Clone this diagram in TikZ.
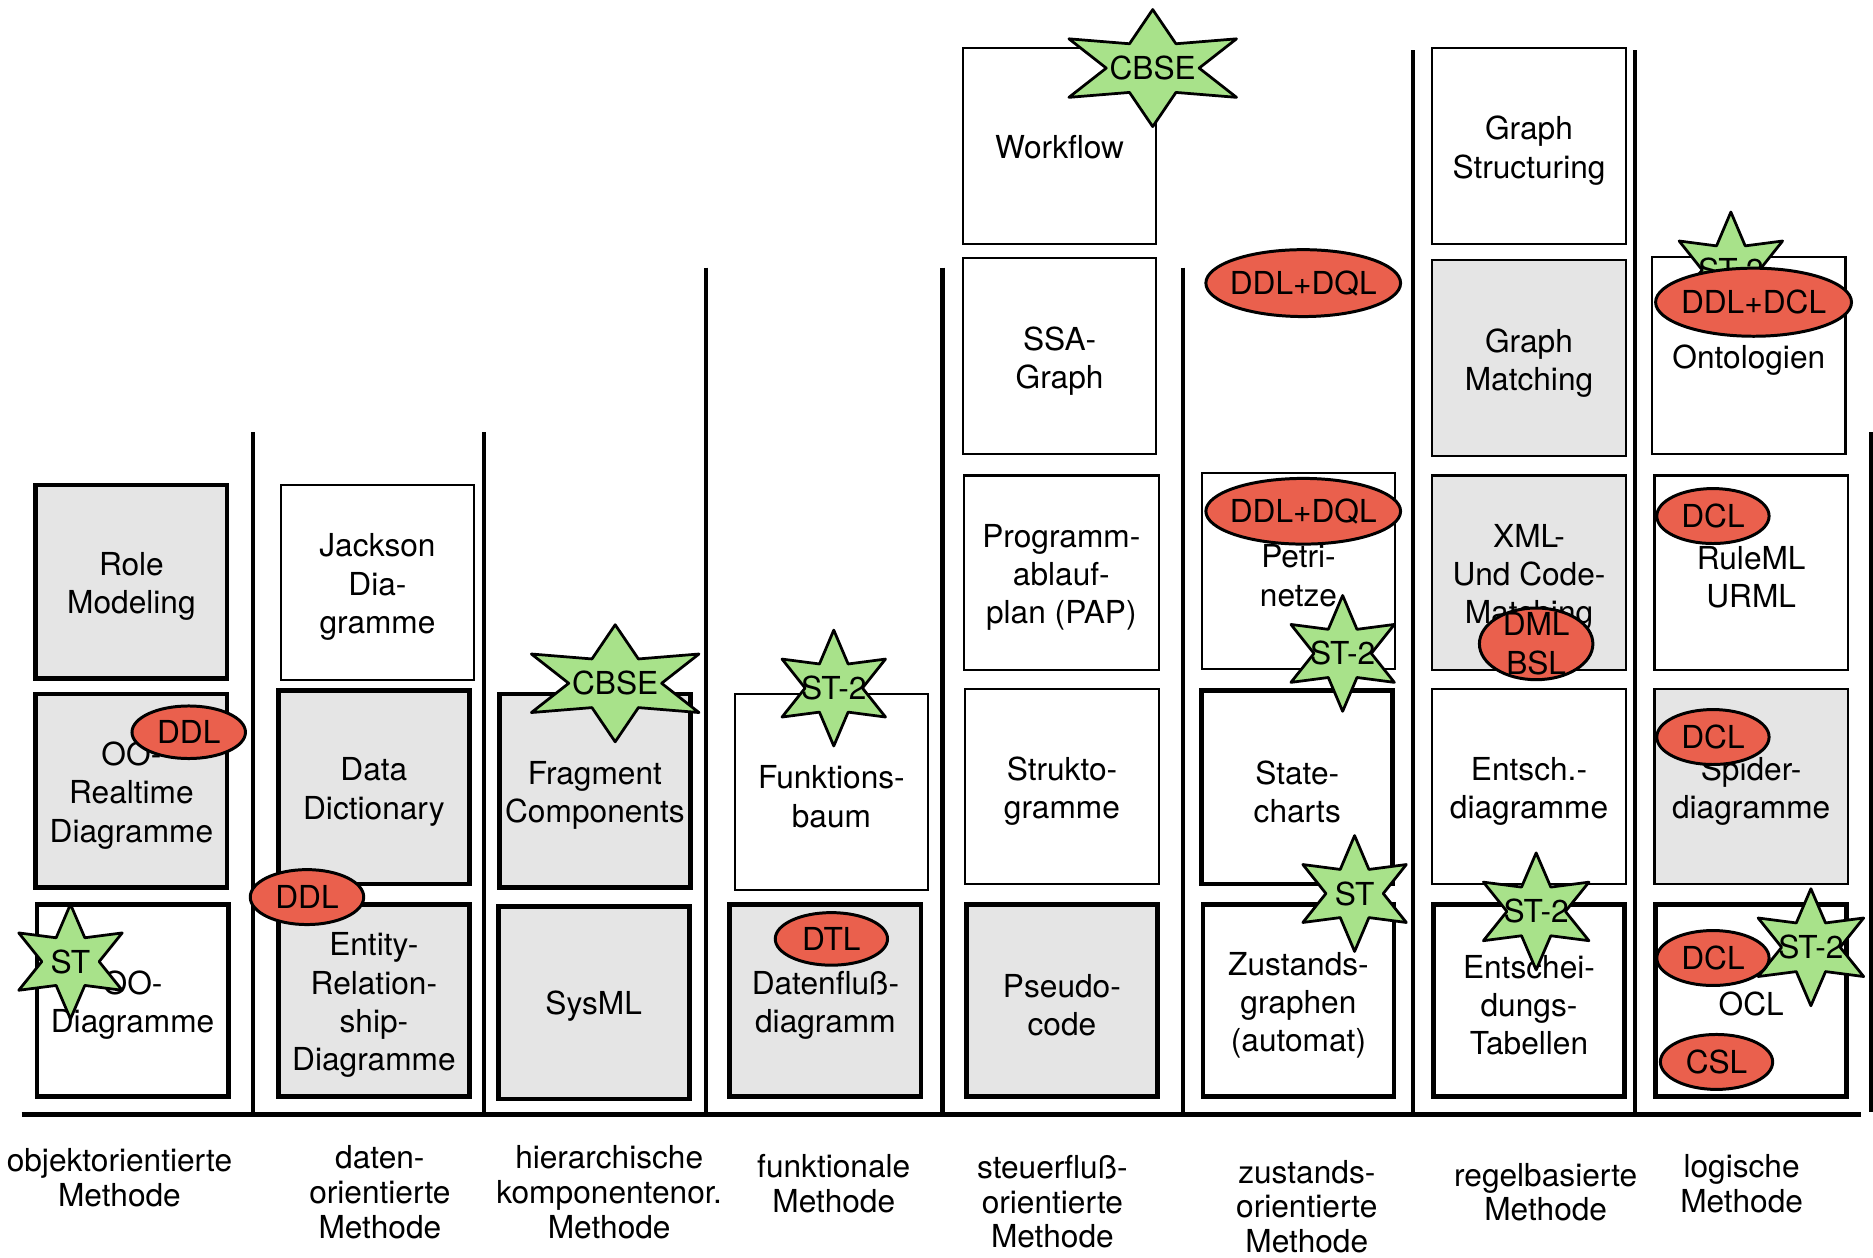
\documentclass[tikz,border=0pt]{standalone}
\usepackage{fontspec}
\setmainfont{TeX Gyre Heros}
\usetikzlibrary{calc}
\definecolor{boxgray}{RGB}{229,229,229}
\definecolor{tagred}{RGB}{234,96,77}
\definecolor{stargreen}{RGB}{168,226,138}
\tikzset{
  base/.style={draw, inner sep=0pt},
  thinb/.style={base, line width=1.8pt, fill=white},
  thickb/.style={base, line width=4pt, fill=white},
  grayfill/.style={fill=boxgray},
  boxtext/.style={align=center, inner sep=0pt, font=\fontsize{26.5}{32}\selectfont},
  sepline/.style={line width=3.4pt},
  baseline/.style={line width=5pt},
  tagshape/.style={draw, line width=2.5pt, fill=tagred},
  tagtext/.style={inner sep=0pt, align=center, font=\fontsize{26.5}{32}\selectfont},
  starshape/.style={draw, line width=2.3pt, fill=stargreen, line join=round},
  methlabel/.style={align=center, inner sep=0pt, font=\fontsize{26.5}{29}\selectfont},
}
% style, name, cx, cy, w, h, text-offset, text
\newcommand\bx[8]{%
  \node[#1, minimum width=#5pt, minimum height=#6pt] (#2) at (#3,#4) {};
  \node[boxtext] (#2-t) at ($(#2.center)+(0,#7)$) {#8};}
\newcommand\tagell[6]{%
  \draw[tagshape] (#2,#3) ellipse [x radius=#4pt, y radius=#5pt];
  \node[tagtext] (#1) at (#2,#3) {#6};}
\newcommand\gstar[6]{%
  \draw[starshape, shift={(#2,#3)}, xscale=#4, yscale=#5]
    (90:1) -- (120:.48) -- (150:1) -- (180:.48) -- (210:1) -- (240:.48) --
    (270:1) -- (300:.48) -- (330:1) -- (0:.48) -- (30:1) -- (60:.48) -- cycle;
  \node[tagtext] (#1) at (#2,#3) {#6};}
\begin{document}
\begin{tikzpicture}[x=1pt, y=-1pt]
\useasboundingbox (0,0) rectangle (1568,1053);

% column 1: objektorientiert
\bx{thickb,grayfill}{role}{110}{487}{160}{162}{4}{Role\\Modeling}
\bx{thickb,grayfill}{oort}{110}{662}{160}{162}{4}{OO-\\Realtime\\Diagramme}
\bx{thickb}{oodiag}{111}{837.5}{160}{161}{4}{OO-\\Diagramme}
% column 2: datenorientiert
\bx{thinb}{jackson}{316}{487.5}{162}{163}{4}{Jackson\\Dia-\\gramme}
\bx{thickb,grayfill}{datadict}{313}{659}{160}{162}{4}{Data\\Dictionary}
\bx{thickb,grayfill}{erd}{313}{837.5}{160}{161}{4}{Entity-\\Relation-\\ship-\\Diagramme}
% column 3: hierarchisch
\bx{thickb,grayfill}{frag}{498}{662}{160}{162}{4}{Fragment\\Components}
\bx{thickb,grayfill}{sysml}{497}{839.5}{160}{161}{3}{SysML}
% column 4: funktional
\bx{thinb}{fbaum}{696}{663}{162}{164}{4}{Funktions-\\baum}
\bx{thickb,grayfill}{dfd}{691}{837.5}{160}{161}{4}{Datenfluß-\\diagramm}
% column 5: steuerfluss
\bx{thinb}{workflow}{887}{122}{162}{164}{1}{Workflow}
\bx{thinb}{ssa}{887}{298}{162}{164}{4}{SSA-\\Graph}
\bx{thinb}{pap}{888.5}{479.5}{163}{163}{4}{Programm-\\ablauf-\\plan (PAP)}
\bx{thinb}{strukto}{889}{658.5}{162}{163}{4}{Strukto-\\gramme}
\bx{thickb,grayfill}{pseudo}{889}{837.5}{160}{161}{4}{Pseudo-\\code}
% column 6: zustandsorientiert
\bx{thinb}{petri}{1087}{478}{162}{164}{4}{Petri-\\netze}
\bx{thickb}{state}{1086}{659}{160}{162}{4}{State-\\charts}
\bx{thickb}{zust}{1087}{837.5}{160}{161}{4}{Zustands-\\graphen\\(automat)}
% column 7: regelbasiert
\bx{thinb}{gstruct}{1280}{122}{162}{164}{4}{Graph\\Structuring}
\bx{thinb,grayfill}{gmatch}{1280}{300}{162}{164}{4}{Graph\\Matching}
\bx{thinb,grayfill}{xml}{1280}{479.5}{162}{163}{4}{XML-\\Und Code-\\Matching}
\bx{thinb}{entschd}{1280}{658.5}{162}{163}{4}{Entsch.-\\diagramme}
\bx{thickb}{entscht}{1280}{837.5}{160}{161}{4}{Entschei-\\dungs-\\Tabellen}
% column 8: logisch
\bx{thinb}{onto}{1464}{297.5}{162}{165}{4}{Ontologien}
\bx{thinb}{ruleml}{1466}{479.5}{162}{163}{4}{RuleML\\URML}
\bx{thinb,grayfill}{spider}{1466}{658.5}{162}{163}{4}{Spider-\\diagramme}
\bx{thickb}{ocl}{1466}{837.5}{160}{161}{3}{OCL}

% separators
\draw[sepline] (212,362) -- (212,931);
\draw[sepline] (405,362) -- (405,931);
\draw[sepline] (591,224) -- (591,931);
\draw[sepline] (789,224) -- (789,931);
\draw[sepline] (990,224) -- (990,931);
\draw[sepline] (1183,42) -- (1183,931);
\draw[sepline] (1369,42) -- (1369,931);
\draw[sepline] (1566,362) -- (1566,931);
\draw[baseline] (18,933) -- (1558,933);

% method labels
\node[methlabel] (lab1) at (100,986) {objektorientierte\\Methode};
\node[methlabel] (lab2) at (318,998) {daten-\\orientierte\\Methode};
\node[methlabel] (lab3) at (510,998) {hierarchische\\komponentenor.\\Methode};
\node[methlabel] (lab4) at (698,991) {funktionale\\Methode};
\node[methlabel] (lab5) at (881,1006) {steuerfluß-\\orientierte\\Methode};
\node[methlabel] (lab6) at (1094,1010) {zustands-\\orientierte\\Methode};
\node[methlabel] (lab7) at (1294,998) {regelbasierte\\Methode};
\node[methlabel] (lab8) at (1458,991) {logische\\Methode};

% stars
\gstar{st1}{59}{805}{50}{48}{ST}
\gstar{cbse1}{515}{572}{81}{49}{CBSE}
\gstar{st2a}{698}{576}{50}{48.5}{ST-2}
\gstar{cbse2}{965}{57}{81}{49}{CBSE}
\gstar{st2b}{1124}{547}{50}{48.5}{ST-2}
\gstar{st3}{1134}{748}{50}{48.5}{ST}
\gstar{st2c}{1286}{763}{51}{49}{ST-2}
\gstar{st2d}{1516}{793}{51}{49}{ST-2}
\gstar{st2e}{1449}{226}{50}{48.5}{ST-2}

% tags
\tagell{t1}{158}{613}{47.5}{22}{DDL}
\tagell{t2}{257}{751}{47.5}{23}{DDL}
\tagell{t3}{696}{786}{47}{22}{DTL}
\tagell{t4}{1091}{237}{81.5}{28}{DDL+DQL}
\tagell{t5}{1091}{428}{81.5}{27.5}{DDL+DQL}
\tagell{t6}{1286}{539}{47.5}{30}{DML\\BSL}
\tagell{t7}{1468}{253}{82}{28.5}{DDL+DCL}
\tagell{t8}{1434}{432}{47}{23}{DCL}
\tagell{t9}{1434}{617}{47}{23}{DCL}
\tagell{t10}{1434}{802}{47}{23}{DCL}
\tagell{t11}{1437}{889}{47}{23}{CSL}
\end{tikzpicture}
\end{document}
